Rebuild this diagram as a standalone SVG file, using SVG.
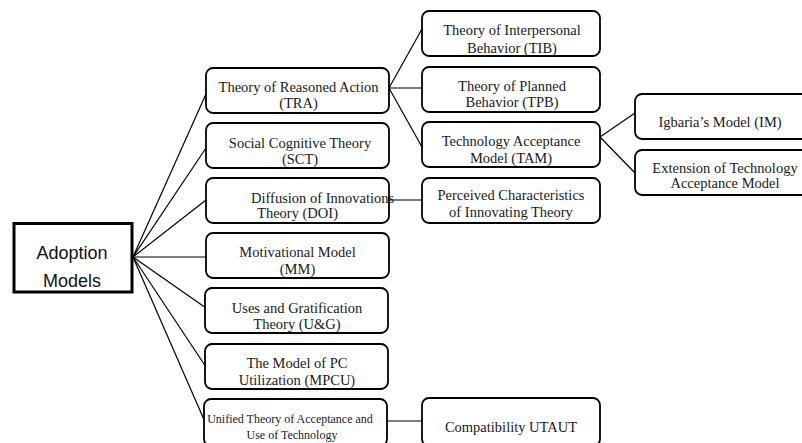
<svg xmlns="http://www.w3.org/2000/svg" width="802" height="443" viewBox="0 0 802 443">
<style>
.box{fill:#fff;stroke:#000;stroke-width:1.8}
.t{font-family:"Liberation Serif","Times New Roman",serif;font-size:14.5px;fill:#1a1a1a;text-anchor:middle}
.s{font-size:12px}
.c line{stroke:#000;stroke-width:1.2}
</style>
<rect width="802" height="443" fill="#fff"/>
<g id="connectors" class="c">
<line x1="133" y1="257" x2="206" y2="94"/>
<line x1="133" y1="257" x2="206" y2="148"/>
<line x1="133" y1="257" x2="206" y2="200"/>
<line x1="133" y1="257" x2="206" y2="257"/>
<line x1="133" y1="257" x2="206" y2="308"/>
<line x1="133" y1="257" x2="206" y2="367"/>
<line x1="133" y1="257" x2="205" y2="422"/>
<line x1="389" y1="88" x2="422" y2="29"/>
<line x1="389" y1="88" x2="422" y2="88"/>
<line x1="389" y1="88" x2="422" y2="147"/>
<line x1="389" y1="200" x2="422" y2="200"/>
<line x1="388" y1="421" x2="422" y2="421"/>
<line x1="600" y1="137" x2="635" y2="113"/>
<line x1="600" y1="137" x2="635" y2="173"/>
</g>
<g id="adoption">
<rect x="14" y="223.5" width="118" height="68.5" fill="#fff" stroke="#000" stroke-width="3"/>
<text x="72" y="259" font-family="'Liberation Sans',Arial,sans-serif" font-size="18" text-anchor="middle" fill="#111">Adoption</text>
<text x="72" y="287" font-family="'Liberation Sans',Arial,sans-serif" font-size="18" text-anchor="middle" fill="#111">Models</text>
</g>
<g id="tra"><rect class="box" x="206" y="68" width="183" height="45" rx="7"/>
<text class="t" x="298.5" y="92">Theory of Reasoned Action</text><text class="t" x="298.5" y="108">(TRA)</text></g>
<g id="sct"><rect class="box" x="206" y="123" width="183" height="45" rx="7"/>
<text class="t" x="300" y="148">Social Cognitive Theory</text><text class="t" x="300" y="164">(SCT)</text></g>
<g id="doi"><rect class="box" x="206" y="178" width="183" height="45" rx="7"/>
<text class="t" x="251" y="203" style="text-anchor:start">Diffusion of Innovations</text><text class="t" x="297.5" y="218">Theory (DOI)</text></g>
<g id="mm"><rect class="box" x="206" y="233" width="183" height="45" rx="7"/>
<text class="t" x="297.5" y="257">Motivational Model</text><text class="t" x="297.5" y="274">(MM)</text></g>
<g id="ug"><rect class="box" x="205" y="288" width="183" height="45" rx="7"/>
<text class="t" x="297" y="313">Uses and Gratification</text><text class="t" x="297" y="329">Theory (U&amp;G)</text></g>
<g id="mpcu"><rect class="box" x="205" y="344" width="183" height="45" rx="7"/>
<text class="t" x="297" y="368">The Model of PC</text><text class="t" x="297" y="385">Utilization (MPCU)</text></g>
<g id="utaut"><rect class="box" x="204" y="399" width="183" height="47" rx="7"/>
<text class="t s" x="290" y="423">Unified Theory of Acceptance and</text><text class="t s" x="292" y="439">Use of Technology</text></g>
<g id="tib"><rect class="box" x="422" y="11" width="178" height="45" rx="7"/>
<text class="t" x="512" y="35">Theory of Interpersonal</text><text class="t" x="512" y="53">Behavior (TIB)</text></g>
<g id="tpb"><rect class="box" x="422" y="67" width="178" height="45" rx="7"/>
<text class="t" x="512" y="91">Theory of Planned</text><text class="t" x="512" y="107">Behavior (TPB)</text></g>
<g id="tam"><rect class="box" x="422" y="122" width="178" height="45" rx="7"/>
<text class="t" x="511" y="146">Technology Acceptance</text><text class="t" x="511" y="163">Model (TAM)</text></g>
<g id="pci"><rect class="box" x="422" y="178" width="178" height="45" rx="7"/>
<text class="t" x="511" y="200">Perceived Characteristics</text><text class="t" x="511" y="217">of Innovating Theory</text></g>
<g id="compat"><rect class="box" x="422" y="398" width="178" height="48" rx="7"/>
<text class="t" x="511" y="432">Compatibility UTAUT</text></g>
<g id="im"><rect class="box" x="635" y="94" width="180" height="45" rx="7"/>
<text class="t" x="720" y="127">Igbaria’s Model (IM)</text></g>
<g id="etam"><rect class="box" x="635" y="150" width="180" height="45" rx="7"/>
<text class="t" x="725" y="173">Extension of Technology</text><text class="t" x="725" y="188">Acceptance Model</text></g>
</svg>
